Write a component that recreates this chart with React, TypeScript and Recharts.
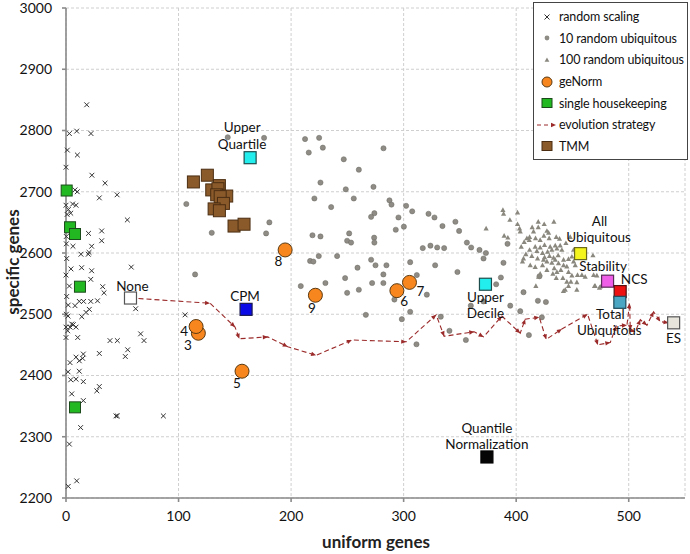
import React from 'react';
import { ScatterChart, Scatter, XAxis, YAxis, CartesianGrid, Label } from 'recharts';

// random scaling runs (x markers)
const randomScaling: number[][] = [
  [18.4, 2842], [3, 2795], [9.5, 2799], [22.2, 2795], [1.2, 2768], [10.1, 2760], [0, 2740], [23, 2727],
  [34.7, 2714], [8, 2703], [10, 2700], [29.6, 2690], [45.4, 2695], [0, 2678], [5.9, 2680], [8.9, 2678],
  [2.1, 2671], [4.2, 2665], [1, 2663], [54.5, 2654], [20, 2632], [31.7, 2636], [31.7, 2620], [22.8, 2611],
  [0.3, 2615], [6.2, 2611], [0.3, 2627], [13.3, 2598], [19.8, 2598], [20.5, 2601], [0.6, 2591], [4.4, 2574],
  [13.9, 2576], [22.8, 2571], [58, 2577], [0, 2564], [22, 2557], [3, 2546], [32.6, 2545], [33.8, 2535],
  [0.6, 2529], [2, 2515], [8, 2514], [11.8, 2521], [15.6, 2521], [22, 2521], [28, 2522], [20.7, 2508],
  [17.8, 2503], [14, 2496], [0.3, 2500], [1.8, 2497], [61.9, 2509], [0, 2479], [3.6, 2479], [5.1, 2484],
  [6.5, 2483], [1.5, 2473], [8.9, 2479], [10.4, 2462], [0, 2462], [105.8, 2499], [39.1, 2457], [45.6, 2457],
  [66.3, 2468], [69.3, 2457], [54.8, 2442], [52.7, 2431], [15.4, 2435], [29.6, 2436], [8.9, 2430], [11.8, 2424],
  [3.6, 2421], [14.8, 2428], [1.8, 2406], [4.2, 2393], [8.9, 2394], [11.8, 2407], [15.4, 2390], [27.4, 2375],
  [29.6, 2382], [5.1, 2370], [15.4, 2359], [44.4, 2334], [45.6, 2334], [86.5, 2334], [13, 2315], [3, 2288],
  [9.5, 2228], [2, 2219],
];

// 10 random ubiquitous genes (grey dots)
const randomUbiq10: number[][] = [
  [143.7, 2789], [176, 2788], [212.4, 2786], [224.9, 2788], [228.2, 2772], [215.7, 2764], [282.1, 2771],
  [246.8, 2753], [260.2, 2736], [226.1, 2715], [248.6, 2704], [273.2, 2708], [220.7, 2689], [255.7, 2689],
  [235.6, 2675], [287.4, 2686], [289.2, 2679], [274, 2665], [271.1, 2659], [295.4, 2658], [293, 2638],
  [106.9, 2680], [180.7, 2650], [177.8, 2632], [129.5, 2633], [219, 2629], [226.1, 2627], [251.6, 2632],
  [249.8, 2620], [253.3, 2617], [273.8, 2625], [274, 2617], [114.7, 2565], [224.6, 2595], [216.9, 2587],
  [219.8, 2586], [240.9, 2595], [208.6, 2546], [230.5, 2551], [302.2, 2677], [307.6, 2668], [300.2, 2643],
  [322.1, 2664], [327.4, 2658], [334.5, 2644], [346, 2651], [349.3, 2636], [317, 2608], [323.8, 2612],
  [329.8, 2609], [336, 2608], [356.2, 2617], [360, 2609], [367.4, 2605], [371, 2591], [373.1, 2600],
  [271.1, 2589], [275, 2580], [284.7, 2580], [259, 2576], [282, 2565], [305.8, 2585], [328, 2580],
  [311.7, 2564], [347.8, 2569], [248, 2559], [272, 2551], [282, 2551], [260.2, 2540], [249.8, 2535],
  [320.6, 2532], [291.8, 2524], [305.8, 2504], [266.4, 2499], [298.4, 2492], [333, 2496], [359.7, 2514],
  [382.2, 2549], [392.3, 2615], [386.4, 2560], [388.7, 2584], [370.9, 2521], [394.7, 2514], [406.5, 2536],
  [419.3, 2522], [426.4, 2520], [420.7, 2562], [403.6, 2505], [340.7, 2473], [355.3, 2458], [411.3, 2466],
  [422.8, 2495], [311.4, 2451],
];

// 100 random ubiquitous genes (grey triangles)
const randomUbiq100: number[][] = [
  [388.2, 2670], [388.8, 2664], [401.2, 2666], [394.4, 2654], [373.3, 2640], [401.2, 2647], [403, 2640],
  [389.3, 2628], [392.6, 2625], [403.6, 2635], [414.2, 2642], [419.6, 2651], [419.6, 2642], [424.9, 2647],
  [433.5, 2651], [427.3, 2636], [428.8, 2633], [415.4, 2635], [409.5, 2624], [411.9, 2626], [407.1, 2618],
  [411.6, 2621], [417.2, 2624], [421.3, 2621], [424.6, 2628], [429.3, 2624], [435.6, 2626], [438.5, 2623],
  [448, 2626], [434.7, 2612], [439.1, 2612], [444.2, 2616], [440.6, 2605], [436.2, 2607], [431.7, 2605],
  [427.9, 2602], [423.4, 2600], [418.4, 2603], [408.6, 2598], [413.9, 2595], [419, 2591], [425.2, 2593],
  [429.6, 2595], [433.2, 2592], [437.3, 2596], [442.1, 2589], [446.5, 2590], [449.5, 2594], [434.7, 2589],
  [427.3, 2586], [424.3, 2589], [431.7, 2584], [437.6, 2583], [442.1, 2580], [445, 2578], [451, 2586],
  [452.5, 2580], [433.8, 2575], [439.7, 2572], [446.5, 2569], [449.5, 2563], [454.5, 2564], [458.4, 2564],
  [461.3, 2561], [468.2, 2596], [468.8, 2564], [471.7, 2563], [474.7, 2545], [469.6, 2546], [404.5, 2610],
  [405.6, 2586], [412.5, 2580], [416.9, 2577], [417.5, 2546], [423.4, 2580], [441.5, 2559], [443.6, 2540],
  [453.9, 2540], [419.9, 2561], [421.3, 2566], [427.3, 2572], [432.6, 2566], [435.6, 2559], [445, 2553],
  [448.6, 2553], [453.9, 2552], [436.2, 2569], [411.9, 2605], [406.5, 2591], [416.9, 2610], [421.3, 2609],
  [425.2, 2613], [430.2, 2610], [451, 2605], [442, 2538], [446.5, 2546], [470.2, 2546], [474, 2543],
];

// geNorm runs
const geNormRuns = ['3', '4', '5', '6', '7', '8', '9'];
const geNormX = [117.6, 115.6, 156.4, 294, 305.2, 194.7, 221.6];
const geNormY = [2469, 2480, 2407, 2538.5, 2552, 2605, 2531];

// single housekeeping genes
const housekeeping: number[][] = [[0.6, 2702], [3.6, 2642], [8, 2631], [12.4, 2545], [8, 2348]];

// TMM
const tmm: number[][] = [
  [113.2, 2716], [125.6, 2727], [136.3, 2710], [129.5, 2703], [135, 2705], [133.9, 2695], [142.8, 2693],
  [137, 2692], [139.9, 2681], [131.6, 2672], [136.3, 2669], [149.3, 2644], [158.2, 2647],
];

// evolution strategy path
const evoX = [57.3, 128, 150.2, 154, 179.3, 197, 222.2, 254, 302.3, 328.9, 336, 362.7, 371, 387.3, 403.6,
  408, 420.5, 426.7, 440.6, 463.4, 472.6, 483.6, 488.9, 498.4, 500.8, 501.4, 505.8, 510.3, 516.2, 522.1,
  528, 535.4, 539.9];
const evoY = [2526.5, 2518, 2479, 2460, 2463, 2447, 2433, 2458, 2455, 2499, 2464, 2471.5, 2463, 2497, 2469,
  2492, 2495, 2459, 2476, 2500, 2450, 2454, 2481, 2482, 2518, 2474, 2471.5, 2491, 2482, 2504, 2488, 2486,
  2486];

// named normalisation methods
const methodNames = ['None', 'CPM', 'Upper Quartile', 'Upper Decile', 'Quantile Normalization',
  'All Ubiquitous', 'Stability', 'NCS', 'Total Ubiquitous', 'ES'];
const methodX = [57.3, 160, 163.6, 372.7, 374, 457.2, 481.2, 492.4, 492.1, 539.9];
const methodY = [2526.5, 2508, 2755.6, 2549, 2267, 2599, 2554, 2537, 2519.5, 2486];

const xTicks = [0, 100, 200, 300, 400, 500];
const yTicks = [2200, 2300, 2400, 2500, 2600, 2700, 2800, 2900, 3000];

const toPoints = (pts: number[][]) => pts.map(([x, y]) => ({ x, y }));
const geNormData = geNormRuns.map((run, i) => ({ x: geNormX[i], y: geNormY[i], run }));
const evoData = evoX.map((x, i) => ({
  x, y: evoY[i],
  px: i > 0 ? evoX[i - 1] : null,
  py: i > 0 ? evoY[i - 1] : null,
}));
const methodData = methodNames.map((name, i) => ({ x: methodX[i], y: methodY[i], name }));

const FONT = 'Lato, "Open Sans", sans-serif';
const EVO = '#9b2a2a';

const methodColors: Record<string, [string, string]> = {
  'None': ['#ffffff', '#555555'],
  'CPM': ['#0a0ae6', '#1a1a50'],
  'Upper Quartile': ['#22eeee', '#1d4d4d'],
  'Upper Decile': ['#22eeee', '#1d4d4d'],
  'Quantile Normalization': ['#050505', '#000000'],
  'All Ubiquitous': ['#f4f41e', '#6b6a1a'],
  'Stability': ['#ee5ee6', '#5a2a58'],
  'NCS': ['#ee1111', '#551010'],
  'Total Ubiquitous': ['#4aa6c2', '#1e4858'],
  'ES': ['#e7e5dc', '#555555'],
};

// label lines: [text, dx, dy(baseline)] relative to the marker
const methodLabels: Record<string, [string, number, number][]> = {
  'None': [['None', 2, -7.5]],
  'CPM': [['CPM', -1, -8.5]],
  'Upper Quartile': [['Upper', -8, -25.5], ['Quartile', -8, -9]],
  'Upper Decile': [['Upper', 0, 18], ['Decile', 0, 33.5]],
  'Quantile Normalization': [['Quantile', 0, -24], ['Normalization', 0, -7.5]],
  'All Ubiquitous': [['All', 19, -27.5], ['Ubiquitous', 18, -11.5]],
  'Stability': [['Stability', -4.5, -10.5]],
  'NCS': [['NCS', 14, -7.5]],
  'Total Ubiquitous': [['Total', -9.5, 17], ['Ubiquitous', -10.5, 32.5]],
  'ES': [['ES', 0, 20]],
};

const geNormLabels: Record<string, [number, number]> = {
  '3': [-10.5, 17], '4': [-12, 9.3], '5': [-5, 17], '6': [7.3, 15.5],
  '7': [11, 13.4], '8': [-6.7, 16.5], '9': [-3.6, 18],
};

const CrossShape = (p: any) => (
  <path
    d={`M${p.cx - 2.4},${p.cy - 2.4}L${p.cx + 2.4},${p.cy + 2.4}M${p.cx - 2.4},${p.cy + 2.4}L${p.cx + 2.4},${p.cy - 2.4}`}
    stroke="#333" strokeWidth={1}
  />
);

const DotShape = (p: any) => (
  <circle cx={p.cx} cy={p.cy} r={2.6} fill="#8e8c84" stroke="#6a6862" strokeWidth={0.5} />
);

const TriShape = (p: any) => (
  <path d={`M${p.cx},${p.cy - 2.8}L${p.cx + 2.6},${p.cy + 1.9}L${p.cx - 2.6},${p.cy + 1.9}Z`} fill="#8a887e" />
);

const GeNormShape = (p: any) => {
  const off = geNormLabels[p.payload.run];
  return (
    <g>
      <circle cx={p.cx} cy={p.cy} r={7} fill="#f7861e" stroke="#5a3a12" strokeWidth={1} />
      <text x={p.cx + off[0]} y={p.cy + off[1]} textAnchor="middle" fontSize={13.5} fontFamily={FONT} fill="#111">
        {p.payload.run}
      </text>
    </g>
  );
};

const SquareShape = (fill: string, stroke: string, size: number) => (p: any) => (
  <rect x={p.cx - size / 2} y={p.cy - size / 2} width={size} height={size} fill={fill} stroke={stroke} strokeWidth={1} />
);

const EvoArrow = (p: any) => {
  const { cx, cy, payload } = p;
  if (payload.px == null) return <g />;
  const ang = (Math.atan2(-(payload.y - payload.py) * 0.6125, (payload.x - payload.px) * 1.1255) * 180) / Math.PI;
  return <path d="M0,0L-5,-2.2L-5,2.2Z" transform={`translate(${cx},${cy}) rotate(${ang})`} fill={EVO} />;
};

const MethodShape = (p: any) => {
  const { cx, cy, payload } = p;
  const [fill, stroke] = methodColors[payload.name];
  return (
    <g>
      <rect x={cx - 6} y={cy - 6} width={12} height={12} fill={fill} stroke={stroke} strokeWidth={1.2} />
      {methodLabels[payload.name].map(([t, dx, dy], i) => (
        <text key={i} x={cx + dx} y={cy + dy} textAnchor="middle" fontSize={13.5} fontFamily={FONT} fill="#111">
          {t}
        </text>
      ))}
    </g>
  );
};

const legendItems = ['random scaling', '10 random ubiquitous', '100 random ubiquitous', 'geNorm',
  'single housekeeping', 'evolution strategy', 'TMM'];

const legendMarker = (i: number) => {
  const c = 10, m = 8;
  switch (i) {
    case 0: return <path d={`M${c - 2.5},${m - 2.5}L${c + 2.5},${m + 2.5}M${c - 2.5},${m + 2.5}L${c + 2.5},${m - 2.5}`} stroke="#333" />;
    case 1: return <circle cx={c} cy={m} r={2.4} fill="#8e8c84" />;
    case 2: return <path d={`M${c},${m - 2.6}L${c + 2.4},${m + 1.8}L${c - 2.4},${m + 1.8}Z`} fill="#8a887e" />;
    case 3: return <circle cx={c} cy={m} r={5} fill="#f7861e" stroke="#5a3a12" />;
    case 4: return <rect x={c - 5} y={m - 4.5} width={10} height={9} fill="#22b822" stroke="#1a4a1a" />;
    case 5: return (
      <g>
        <line x1={0} y1={m} x2={14} y2={m} stroke={EVO} strokeDasharray="4 3" />
        <path d={`M19,${m}L14,${m - 2.2}L14,${m + 2.2}Z`} fill={EVO} />
      </g>
    );
    default: return <rect x={c - 5} y={m - 4.5} width={10} height={9} fill="#8b5a2b" stroke="#4b2e12" />;
  }
};

const LegendBox = () => (
  <div style={{
    position: 'absolute', left: 533, top: 2, width: 155, boxSizing: 'border-box',
    border: '1px solid #444', background: '#fff', padding: '3px 0 2px 3px',
    fontFamily: FONT, fontSize: 12.5, letterSpacing: -0.15, color: '#111',
  }}>
    {legendItems.map((name, i) => (
      <div key={name} style={{ display: 'flex', alignItems: 'center', height: 21.6 }}>
        <svg width={21} height={16} style={{ marginRight: 1, flexShrink: 0 }}>{legendMarker(i)}</svg>
        <span style={{ whiteSpace: 'nowrap' }}>{name}</span>
      </div>
    ))}
  </div>
);

export default function App() {
  return (
    <div style={{ position: 'absolute', left: 0, top: 0, width: 690, height: 554, background: '#fff' }}>
      <ScatterChart width={690} height={554} margin={{ top: 8, right: 5, bottom: 0, left: 0 }}>
        <CartesianGrid stroke="#cfcfcf" strokeDasharray="3 2" />
        <XAxis
          type="number" dataKey="x" domain={[0, 550]} ticks={xTicks} height={56}
          stroke="#8a8a8a" strokeWidth={1.6} tickSize={4} tickMargin={9}
          tick={{ fill: '#111', fontSize: 14, fontFamily: FONT }}
        >
          <Label content={() => (
            <text x={376} y={548} textAnchor="middle" fontSize={17} fontWeight="bold" fontFamily={FONT} fill="#222">
              uniform genes
            </text>
          )} />
        </XAxis>
        <YAxis
          type="number" dataKey="y" domain={[2200, 3000]} ticks={yTicks} width={66}
          stroke="#8a8a8a" strokeWidth={1.6} tickSize={4} tickMargin={10}
          tick={{ fill: '#111', fontSize: 14, fontFamily: FONT }}
        >
          <Label content={() => (
            <text x={19} y={262} transform="rotate(-90 19 262)" textAnchor="middle" fontSize={17}
              fontWeight="bold" fontFamily={FONT} fill="#222">
              specific genes
            </text>
          )} />
        </YAxis>
        <Scatter name="random scaling" data={toPoints(randomScaling)} shape={CrossShape} isAnimationActive={false} />
        <Scatter name="10 random ubiquitous" data={toPoints(randomUbiq10)} shape={DotShape} isAnimationActive={false} />
        <Scatter name="100 random ubiquitous" data={toPoints(randomUbiq100)} shape={TriShape} isAnimationActive={false} />
        <Scatter
          name="evolution strategy" data={evoData} shape={EvoArrow} isAnimationActive={false}
          line={{ stroke: EVO, strokeWidth: 1.1, strokeDasharray: '5 3' }} lineType="joint"
        />
        <Scatter name="TMM" data={toPoints(tmm)} shape={SquareShape('#8b5a2b', '#4b2e12', 12)} isAnimationActive={false} />
        <Scatter name="single housekeeping" data={toPoints(housekeeping)} shape={SquareShape('#22b822', '#1a4a1a', 11)} isAnimationActive={false} />
        <Scatter name="geNorm" data={geNormData} shape={GeNormShape} isAnimationActive={false} />
        <Scatter name="methods" data={methodData} shape={MethodShape} isAnimationActive={false} />
      </ScatterChart>
      <LegendBox />
    </div>
  );
}
